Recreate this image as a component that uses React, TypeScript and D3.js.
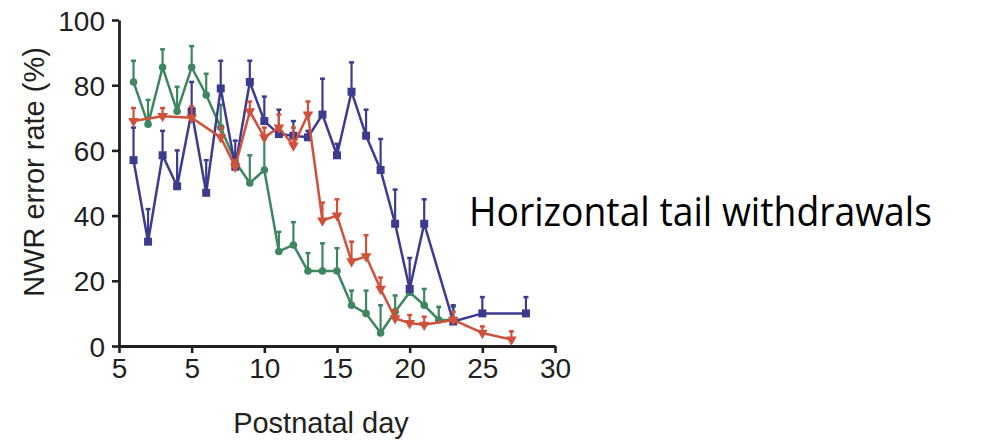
import React, { useEffect, useRef } from "react";
import * as d3 from "d3";

// tick labels as printed on the original figure
const xTickValues = [0, 5, 10, 15, 20, 25, 30];
const xTickLabels = ["5", "5", "10", "15", "20", "25", "30"];
const yTickValues = [0, 20, 40, 60, 80, 100];

const greenDays = [1, 2, 3, 4, 5, 6, 7, 8, 9, 10, 11, 12, 13, 14, 15, 16, 17, 18, 19, 20, 21, 22, 23];
const greenMean = [81, 68, 85.5, 72, 85.5, 77, 67, 56.5, 50, 54, 29, 31, 23, 23, 23, 12.5, 10, 4, 10.5, 16.5, 12.5, 8, 8];
const greenTop = [87.5, 75.5, 91, 79.5, 92, 83.5, 74, 59, 58.5, 63.5, 35, 38, 28.5, 31.5, 30, 17, 17, 12.5, 15.5, 20, 17.5, 12, 12];

const blueDays = [1, 2, 3, 4, 5, 6, 7, 8, 9, 10, 11, 12, 13, 14, 15, 16, 17, 18, 19, 20, 21, 23, 25, 28];
const blueMean = [57, 32, 58.5, 49, 72, 47, 79, 55, 81, 69, 65, 64.5, 64, 71, 58.5, 78, 64.5, 54, 37.5, 17.5, 37.5, 7.5, 10, 10];
const blueTop = [67, 42, 66, 60, 81, 57, 87.5, 63, 87.5, 76.5, 72.5, 69, 66, 82, 62, 87, 72.5, 63.5, 48, 27, 45, 12.5, 15, 15];

const redDays = [1, 3, 5, 7, 8, 9, 10, 11, 12, 13, 14, 15, 16, 17, 18, 19, 20, 21, 23, 25, 27];
const redMean = [69, 70.5, 70, 64, 55, 72, 64, 67, 61.5, 71, 38.5, 40, 26, 27.5, 17.5, 8.5, 7, 6.5, 8, 4, 2];
const redTop = [73, 73, 73.5, 67, 57, 75, 67, 71, 67, 75, 44, 45, 32, 34, 21, 11, 9.5, 9, 10.5, 6, 4.5];

type Pt = { day: number; mean: number; top: number };
const zip = (d: number[], m: number[], t: number[]): Pt[] => d.map((day, i) => ({ day, mean: m[i], top: t[i] }));

const series = [
  { key: "green", color: "#3d8660", marker: "circle", points: zip(greenDays, greenMean, greenTop) },
  { key: "blue", color: "#3c3b8e", marker: "square", points: zip(blueDays, blueMean, blueTop) },
  { key: "red", color: "#d0513a", marker: "triangle", points: zip(redDays, redMean, redTop) },
];

const App = () => {
  const svgRef = useRef<SVGSVGElement>(null);
  const width = 997;
  const height = 442;

  useEffect(() => {
    const svg = d3.select(svgRef.current);
    svg.selectAll("*").remove();

    const x = d3.scaleLinear().domain([0, 30]).range([119, 555]);
    const y = d3.scaleLinear().domain([0, 100]).range([346, 20]);
    const axisColor = "#231f20";
    const font = "'Liberation Sans', Arial, Helvetica, sans-serif";

    // axes
    const xAxis = svg.append("g")
      .attr("transform", `translate(0, ${y(0)})`)
      .call(d3.axisBottom(x).tickValues(xTickValues).tickSize(7).tickSizeOuter(0)
        .tickFormat((_, i) => xTickLabels[i]));
    xAxis.select(".domain").attr("stroke", axisColor).attr("stroke-width", 2.8);
    xAxis.selectAll(".tick line").attr("stroke", axisColor).attr("stroke-width", 2.6);
    xAxis.selectAll(".tick text")
      .attr("font-family", font).attr("font-size", 28).attr("fill", axisColor)
      .attr("dy", "0.71em").attr("y", 12);

    const yAxis = svg.append("g")
      .attr("transform", `translate(${x(0)}, 0)`)
      .call(d3.axisLeft(y).tickValues(yTickValues).tickSize(7).tickSizeOuter(0));
    yAxis.select(".domain").attr("stroke", axisColor).attr("stroke-width", 2.8);
    yAxis.selectAll(".tick line").attr("stroke", axisColor).attr("stroke-width", 2.6);
    yAxis.selectAll(".tick text")
      .attr("font-family", font).attr("font-size", 28).attr("fill", axisColor)
      .attr("x", -14).attr("dy", "0.36em");

    svg.append("text")
      .attr("x", 321).attr("y", 433)
      .attr("text-anchor", "middle")
      .attr("font-family", font).attr("font-size", 29).attr("fill", axisColor)
      .text("Postnatal day");

    svg.append("text")
      .attr("transform", `translate(44, 172) rotate(-90)`)
      .attr("text-anchor", "middle")
      .attr("font-family", font).attr("font-size", 29).attr("fill", axisColor)
      .text("NWR error rate (%)");

    const line = d3.line<Pt>().x((d) => x(d.day)).y((d) => y(d.mean));

    series.forEach((s) => {
      const g = svg.append("g");
      // error bars (upper half only)
      g.selectAll("line.err").data(s.points).join("line")
        .attr("x1", (d) => x(d.day)).attr("x2", (d) => x(d.day))
        .attr("y1", (d) => y(d.mean)).attr("y2", (d) => y(d.top))
        .attr("stroke", s.color).attr("stroke-width", 2.2);
      g.selectAll("line.cap").data(s.points).join("line")
        .attr("x1", (d) => x(d.day) - 2.5).attr("x2", (d) => x(d.day) + 2.5)
        .attr("y1", (d) => y(d.top)).attr("y2", (d) => y(d.top))
        .attr("stroke", s.color).attr("stroke-width", 2.5);

      g.append("path")
        .attr("d", line(s.points))
        .attr("fill", "none").attr("stroke", s.color).attr("stroke-width", 2.5)
        .attr("stroke-linejoin", "round");

      const symType = s.marker === "circle" ? d3.symbolCircle
        : s.marker === "square" ? d3.symbolSquare : d3.symbolTriangle;
      const size = s.marker === "circle" ? 45 : s.marker === "square" ? 64 : 50;
      g.selectAll("path.mk").data(s.points).join("path")
        .attr("d", d3.symbol().type(symType).size(size)())
        .attr("transform", (d) => `translate(${x(d.day)}, ${y(d.mean)})${s.marker === "triangle" ? " rotate(180)" : ""}`)
        .attr("fill", s.color);
    });

    svg.append("text")
      .attr("x", 469).attr("y", 226)
      .attr("font-family", "'Open Sans', 'Noto Sans', sans-serif")
      .attr("font-size", 40).attr("fill", "#000")
      .attr("textLength", 463).attr("lengthAdjust", "spacingAndGlyphs")
      .text("Horizontal tail withdrawals");
  }, []);

  return (
    <svg ref={svgRef} width={width} height={height}
      style={{ position: "absolute", left: 0, top: 0, background: "#fff" }} />
  );
};

export default App;
